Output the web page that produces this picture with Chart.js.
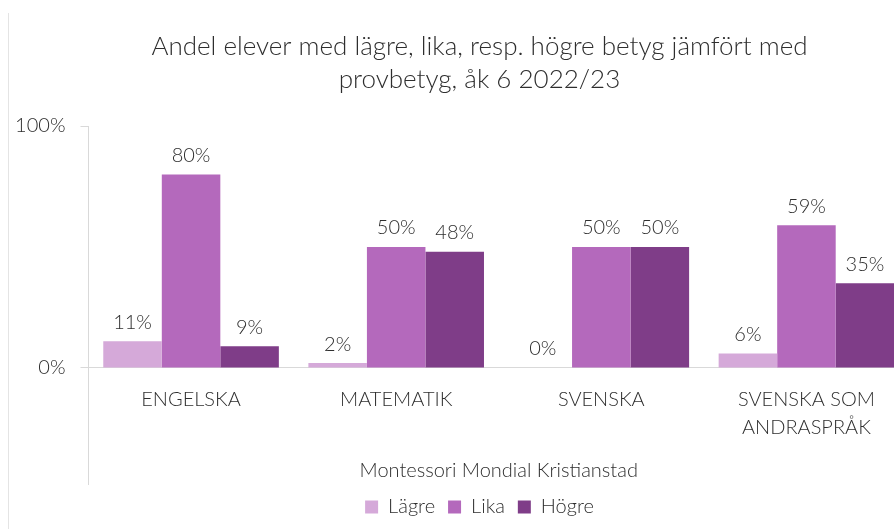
<!DOCTYPE html>
<html>
<head>
<meta charset="utf-8">
<script src="https://cdn.jsdelivr.net/npm/chart.js@4"></script>
<style>
  html, body { margin: 0; padding: 0; background: #fff; overflow: hidden; }
  #wrap { position: relative; width: 894px; height: 529px; overflow: hidden; }
  #edge { position: absolute; left: 8px; top: 13px; bottom: 0; width: 1px; background: #e4e4e4; }
</style>
</head>
<body>
<div id="wrap">
  <div id="edge"></div>
  <!-- the plot runs a little past the right edge, as in the original -->
  <canvas id="chart" width="909" height="529"></canvas>
</div>
<script>
// chart values (percent)
const categories = ['ENGELSKA', 'MATEMATIK', 'SVENSKA', ['SVENSKA SOM', 'ANDRASPRÅK']];
const lagre = [11, 2, 0, 6];
const lika = [80, 50, 50, 59];
const hogre = [9, 48, 50, 35];
const yTicks = [0, 100];

const textColor = '#2e2e2e';
const lineColor = '#d9d9d9';
const fontFamily = 'Lato, "Open Sans", sans-serif';

// writes the value above each bar
const valueLabels = {
    id: 'valueLabels',
    afterDatasetsDraw(chart) {
        const ctx = chart.ctx;
        ctx.save();
        ctx.font = '300 20px ' + fontFamily;
        ctx.fillStyle = textColor;
        ctx.textAlign = 'center';
        ctx.textBaseline = 'middle';
        chart.data.datasets.forEach((ds, i) => {
            chart.getDatasetMeta(i).data.forEach((bar, j) => {
                ctx.fillText(ds.data[j] + '%', bar.x, bar.y - 19);
            });
        });
        ctx.restore();
    }
};

// the y labels sit left of the layout padding, so let their clip box reach the edge
const widenYLabels = {
    id: 'widenYLabels',
    afterLayout(chart) {
        chart.scales.y.left = 0;
    }
};

new Chart(document.getElementById('chart'), {
    type: 'bar',
    data: {
        labels: categories,
        datasets: [
            { label: 'Lägre', data: lagre, backgroundColor: '#d5a9d9' },
            { label: 'Lika', data: lika, backgroundColor: '#b469bc' },
            { label: 'Högre', data: hogre, backgroundColor: '#7f3d88' }
        ]
    },
    options: {
        responsive: false,
        animation: false,
        categoryPercentage: 0.856,
        barPercentage: 1,
        layout: { padding: { left: 50, right: 0, top: 0, bottom: 2 } },
        scales: {
            x: {
                position: { y: 0 },
                grid: { display: true, drawOnChartArea: false, drawTicks: false },
                border: { color: lineColor, width: 1 },
                ticks: {
                    color: textColor,
                    font: { family: fontFamily, size: 20, weight: 300, lineHeight: 1.4 },
                    padding: 18,
                    maxRotation: 0,
                    autoSkip: false
                },
                title: {
                    display: true,
                    text: 'Montessori Mondial Kristianstad',
                    color: textColor,
                    font: { family: fontFamily, size: 20, weight: 300 },
                    padding: { top: 0, bottom: -115 }
                },
                afterFit(scale) {
                    scale.height = 0;
                    scale.paddingLeft = 0;
                    scale.paddingRight = 0;
                }
            },
            y: {
                min: -48,
                max: 100,
                afterBuildTicks(scale) {
                    scale.ticks = yTicks.map(v => ({ value: v }));
                },
                grid: { drawOnChartArea: false, tickLength: 8, color: lineColor },
                border: { color: lineColor, width: 1 },
                ticks: {
                    color: textColor,
                    font: { family: fontFamily, size: 20, weight: 300 },
                    padding: 15,
                    callback: v => v + '%'
                },
                afterFit(scale) { scale.width = 38.5; }
            }
        },
        plugins: {
            title: {
                display: true,
                text: ['Andel elever med lägre, lika, resp. högre betyg jämfört med', 'provbetyg, åk 6 2022/23'],
                color: textColor,
                font: { family: fontFamily, size: 26, weight: 300, lineHeight: 1.27 },
                padding: { top: 30, bottom: 30 }
            },
            legend: {
                position: 'bottom',
                labels: {
                    color: textColor,
                    font: { family: fontFamily, size: 20, weight: 300 },
                    boxWidth: 13,
                    boxHeight: 13,
                    padding: 13
                }
            },
            tooltip: { enabled: false }
        }
    },
    plugins: [valueLabels, widenYLabels]
});
</script>
</body>
</html>
